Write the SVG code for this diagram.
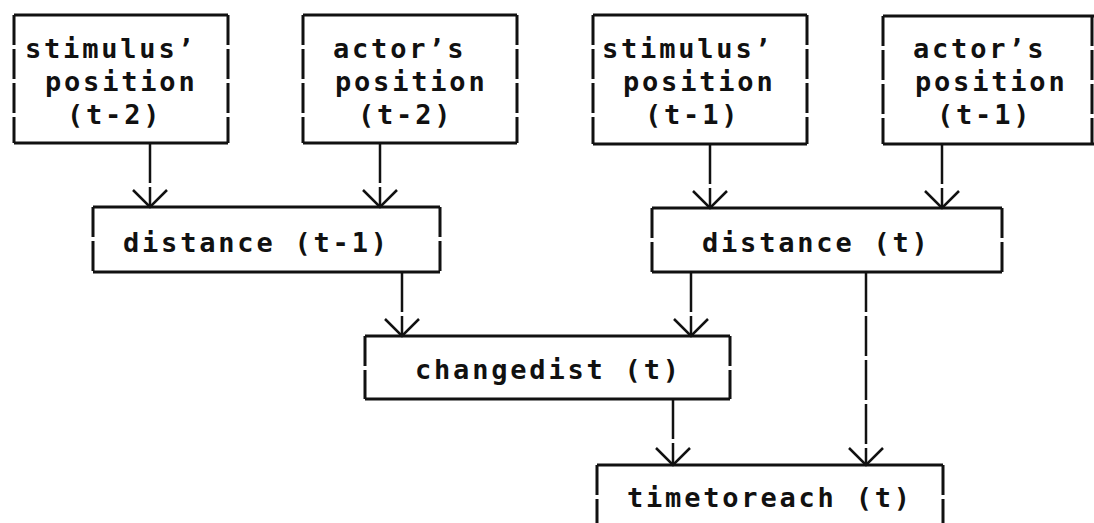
<svg xmlns="http://www.w3.org/2000/svg" width="1094" height="523" viewBox="0 0 1094 523">
  <style>
    .edge-h { stroke: #111; stroke-width: 3; fill: none; }
    .edge-v { stroke: #111; stroke-width: 3; fill: none; stroke-dasharray: 30 4; }
    .lbl { font-family: "DejaVu Sans Mono", "Liberation Mono", monospace; font-size: 27px; font-weight: bold; letter-spacing: 2.8px; fill: #111; }
    .wire { stroke: #111; stroke-width: 2.5; fill: none; stroke-dasharray: 40 4; }
    .head { stroke: #111; stroke-width: 2.5; fill: none; stroke-linejoin: miter; }
  </style>
  <rect width="1094" height="523" fill="#fff"/>

  <!-- connectors: vertical wires with open V heads -->
  <g id="connectors">
    <path class="wire" d="M150 143 V207"/>
    <path class="head" d="M133 190 L150 207 L167 190"/>
    <path class="wire" d="M380 143 V207"/>
    <path class="head" d="M363 190 L380 207 L397 190"/>
    <path class="wire" d="M710 144 V208"/>
    <path class="head" d="M693 191 L710 208 L727 191"/>
    <path class="wire" d="M942 144 V208"/>
    <path class="head" d="M925 191 L942 208 L959 191"/>
    <path class="wire" d="M402 272 V336"/>
    <path class="head" d="M385 319 L402 336 L419 319"/>
    <path class="wire" d="M691 272 V336"/>
    <path class="head" d="M674 319 L691 336 L708 319"/>
    <path class="wire" d="M673 399 V465"/>
    <path class="head" d="M656 448 L673 465 L690 448"/>
    <path class="wire" d="M866 272 V465"/>
    <path class="head" d="M849 448 L866 465 L883 448"/>
  </g>

  <g id="stim-t2">
    <path class="edge-h" d="M14 15 H228 M14 143 H228"/>
    <path class="edge-v" d="M14 15 V143 M228 15 V143"/>
    <text class="lbl" x="25" y="58">stimulus’</text>
    <text class="lbl" x="45" y="91">position</text>
    <text class="lbl" x="67" y="124">(t-2)</text>
  </g>

  <g id="actor-t2">
    <path class="edge-h" d="M303 15 H517 M303 143 H517"/>
    <path class="edge-v" d="M303 15 V143 M517 15 V143"/>
    <text class="lbl" x="333" y="58">actor’s</text>
    <text class="lbl" x="335" y="91">position</text>
    <text class="lbl" x="358" y="124">(t-2)</text>
  </g>

  <g id="stim-t1">
    <path class="edge-h" d="M593 15 H807 M593 144 H807"/>
    <path class="edge-v" d="M593 15 V144 M807 15 V144"/>
    <text class="lbl" x="602" y="58">stimulus’</text>
    <text class="lbl" x="623" y="91">position</text>
    <text class="lbl" x="645" y="124">(t-1)</text>
  </g>

  <g id="actor-t1">
    <path class="edge-h" d="M883 16 H1094 M883 144 H1094"/>
    <path class="edge-v" d="M883 16 V144 M1092 16 V144"/>
    <text class="lbl" x="913" y="58">actor’s</text>
    <text class="lbl" x="915" y="91">position</text>
    <text class="lbl" x="937" y="124">(t-1)</text>
  </g>

  <g id="dist-t1">
    <path class="edge-h" d="M93 207 H440 M93 272 H440"/>
    <path class="edge-v" d="M93 207 V272 M440 207 V272"/>
    <text class="lbl" x="123" y="252">distance (t-1)</text>
  </g>

  <g id="dist-t">
    <path class="edge-h" d="M652 208 H1002 M652 272 H1002"/>
    <path class="edge-v" d="M652 208 V272 M1002 208 V272"/>
    <text class="lbl" x="702" y="252">distance (t)</text>
  </g>

  <g id="changedist">
    <path class="edge-h" d="M365 336 H730 M365 399 H730"/>
    <path class="edge-v" d="M365 336 V399 M730 336 V399"/>
    <text class="lbl" x="415" y="379">changedist (t)</text>
  </g>

  <g id="timetoreach">
    <path class="edge-h" d="M597 465 H943"/>
    <path class="edge-v" d="M597 465 V523 M943 465 V523"/>
    <text class="lbl" x="627" y="507">timetoreach (t)</text>
  </g>
</svg>
